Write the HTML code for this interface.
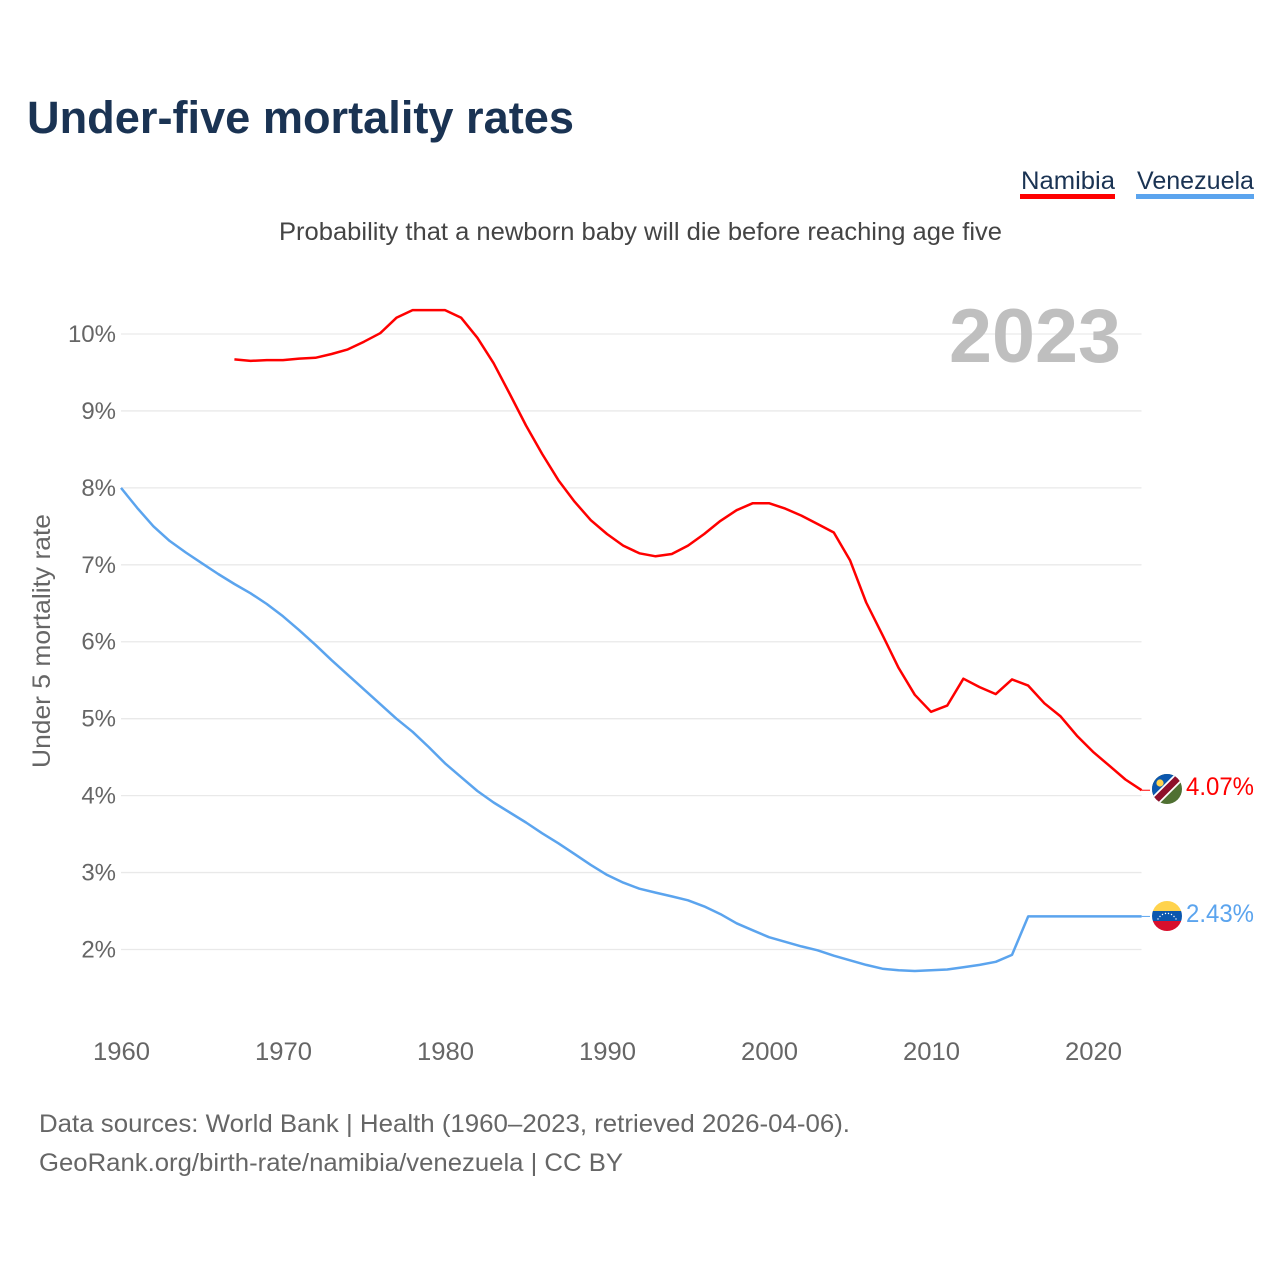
<!DOCTYPE html>
<html lang="en">
<head>
<meta charset="utf-8">
<title>Under-five mortality rates</title>
<style>
html,body{margin:0;padding:0;background:#fff;}
svg{display:block;font-family:"Liberation Sans",sans-serif;}
</style>
</head>
<body>
<svg id="chart" width="1280" height="1280" viewBox="0 0 1280 1280" xmlns="http://www.w3.org/2000/svg">
  <defs>
    <clipPath id="flag-clip-na"><circle cx="1167" cy="789" r="15"/></clipPath>
    <clipPath id="flag-clip-ve"><circle cx="1167" cy="916" r="15"/></clipPath>
  </defs>
  <rect width="1280" height="1280" fill="#fff"/>
  <text x="27" y="133" font-size="45" font-weight="700" fill="#1a3353" textLength="547" lengthAdjust="spacingAndGlyphs">Under-five mortality rates</text>
  <text x="1021" y="189" font-size="25" fill="#1a3353" textLength="94" lengthAdjust="spacingAndGlyphs">Namibia</text>
  <rect x="1020" y="194" width="95" height="5" fill="#ff0000"/>
  <text x="1137" y="189" font-size="25" fill="#1a3353" textLength="117" lengthAdjust="spacingAndGlyphs">Venezuela</text>
  <rect x="1136" y="194" width="118" height="5" fill="#5ba4ee"/>
  <text x="279" y="240" font-size="25" fill="#444" textLength="723" lengthAdjust="spacingAndGlyphs">Probability that a newborn baby will die before reaching age five</text>
  <g id="grid"></g>
  <g id="yticks"></g>
  <g id="xticks"></g>
  <text x="949" y="362" font-size="76" font-weight="700" fill="#bfbfbf" textLength="172" lengthAdjust="spacingAndGlyphs">2023</text>
  <text transform="translate(50,768) rotate(-90)" x="0" y="0" font-size="25" fill="#666" textLength="254" lengthAdjust="spacingAndGlyphs">Under 5 mortality rate</text>
  <g id="series"></g>

  <g clip-path="url(#flag-clip-na)">
    <rect x="1152" y="774" width="30" height="30" fill="#4f7032"/>
    <polygon points="1152,774 1182,774 1152,804" fill="#0b57ae"/>
    <line x1="1152" y1="804" x2="1182" y2="774" stroke="#fff" stroke-width="10"/>
    <line x1="1152" y1="804" x2="1182" y2="774" stroke="#8e0f2b" stroke-width="6.5"/>
    <circle cx="1160" cy="783" r="3.6" fill="#ffd34d"/>
  </g>
  <text id="end-label-namibia" x="1186" y="795" font-size="25" fill="#ff0000" textLength="68" lengthAdjust="spacingAndGlyphs">4.07%</text>

  <g clip-path="url(#flag-clip-ve)">
    <rect x="1152" y="901" width="30" height="10" fill="#ffd34d"/>
    <rect x="1152" y="911" width="30" height="10" fill="#0b57ae"/>
    <rect x="1152" y="921" width="30" height="10" fill="#d80f2c"/>
    <g fill="#fff">
      <circle cx="1158" cy="919" r="0.7"/><circle cx="1160" cy="916.5" r="0.7"/><circle cx="1162.5" cy="914.5" r="0.7"/>
      <circle cx="1165.5" cy="913.5" r="0.7"/><circle cx="1168.5" cy="913.5" r="0.7"/><circle cx="1171.5" cy="914.5" r="0.7"/>
      <circle cx="1174" cy="916.5" r="0.7"/><circle cx="1176" cy="919" r="0.7"/>
    </g>
  </g>
  <text id="end-label-venezuela" x="1186" y="922" font-size="25" fill="#5ba4ee" textLength="68" lengthAdjust="spacingAndGlyphs">2.43%</text>

  <text x="39" y="1132" font-size="25" fill="#666" textLength="811" lengthAdjust="spacingAndGlyphs">Data sources: World Bank | Health (1960–2023, retrieved 2026-04-06).</text>
  <text x="39" y="1171" font-size="25" fill="#666" textLength="584" lengthAdjust="spacingAndGlyphs">GeoRank.org/birth-rate/namibia/venezuela | CC BY</text>
</svg>
<script>
const xTickYears = [1960, 1970, 1980, 1990, 2000, 2010, 2020];
const yTickValues = [2, 3, 4, 5, 6, 7, 8, 9, 10];

const namibiaStartYear = 1967;
const namibiaValues = [
  9.67, 9.65, 9.66, 9.66, 9.68, 9.69, 9.74, 9.80, 9.90, 10.01,
  10.21, 10.31, 10.31, 10.31, 10.21, 9.95, 9.62, 9.22, 8.81, 8.44,
  8.10, 7.82, 7.58, 7.40, 7.25, 7.15, 7.11, 7.14, 7.25, 7.40,
  7.57, 7.71, 7.80, 7.80, 7.73, 7.64, 7.53, 7.42, 7.06, 6.51,
  6.09, 5.66, 5.31, 5.09, 5.17, 5.52, 5.41, 5.32, 5.51, 5.43,
  5.20, 5.03, 4.78, 4.57, 4.39, 4.21, 4.07
];

const venezuelaStartYear = 1960;
const venezuelaValues = [
  8.00, 7.74, 7.50, 7.31, 7.16, 7.02, 6.88, 6.75, 6.63, 6.49,
  6.33, 6.15, 5.96, 5.76, 5.57, 5.38, 5.19, 5.00, 4.83, 4.63,
  4.42, 4.24, 4.06, 3.91, 3.78, 3.65, 3.51, 3.38, 3.24, 3.10,
  2.97, 2.87, 2.79, 2.74, 2.69, 2.64, 2.56, 2.46, 2.34, 2.25,
  2.16, 2.10, 2.04, 1.99, 1.92, 1.86, 1.80, 1.75, 1.73, 1.72,
  1.73, 1.74, 1.77, 1.80, 1.84, 1.93, 2.43, 2.43, 2.43, 2.43,
  2.43, 2.43, 2.43, 2.43
];

const NS = 'http://www.w3.org/2000/svg';
const xScale = function (year) { return 121 + (year - 1960) * 16.2; };
const yScale = function (value) { return 949.5 - (value - 2) * 76.94; };

const gridGroup = document.getElementById('grid');
const yTickGroup = document.getElementById('yticks');
const xTickGroup = document.getElementById('xticks');
const seriesGroup = document.getElementById('series');

yTickValues.forEach(function (value) {
  const line = document.createElementNS(NS, 'line');
  
  
  line.setAttribute('x1', xScale(1960));
  line.setAttribute('x2', 1141.5);
  line.setAttribute('y1', yScale(value));
  line.setAttribute('y2', yScale(value));
  line.setAttribute('stroke', '#e9e9e9');
  line.setAttribute('stroke-width', '1.3');
  gridGroup.appendChild(line);

  const label = document.createElementNS(NS, 'text');
  
  
  label.setAttribute('x', 116);
  label.setAttribute('y', yScale(value) + 8);
  label.setAttribute('text-anchor', 'end');
  label.setAttribute('font-size', '24');
  label.setAttribute('fill', '#666');
  label.textContent = value + '%';
  yTickGroup.appendChild(label);
});

xTickYears.forEach(function (year) {
  const label = document.createElementNS(NS, 'text');
  
  
  label.setAttribute('x', xScale(year) + 0.5);
  label.setAttribute('y', 1060);
  label.setAttribute('text-anchor', 'middle');
  label.setAttribute('font-size', '25');
  label.setAttribute('fill', '#666');
  label.setAttribute('textLength', '57');
  label.setAttribute('lengthAdjust', 'spacingAndGlyphs');
  label.textContent = year;
  xTickGroup.appendChild(label);
});

function linePoints(startYear, values) {
  return values.map(function (value, i) {
    return xScale(startYear + i).toFixed(1) + ',' + yScale(value).toFixed(1);
  }).join(' ');
}

const namibiaLine = document.createElementNS(NS, 'polyline');


namibiaLine.setAttribute('points', linePoints(namibiaStartYear, namibiaValues));
namibiaLine.setAttribute('fill', 'none');
namibiaLine.setAttribute('stroke', '#ff0000');
namibiaLine.setAttribute('stroke-width', '2.5');
namibiaLine.setAttribute('stroke-linejoin', 'round');
seriesGroup.appendChild(namibiaLine);

const venezuelaLine = document.createElementNS(NS, 'polyline');


venezuelaLine.setAttribute('points', linePoints(venezuelaStartYear, venezuelaValues));
venezuelaLine.setAttribute('fill', 'none');
venezuelaLine.setAttribute('stroke', '#5ba4ee');
venezuelaLine.setAttribute('stroke-width', '2.5');
venezuelaLine.setAttribute('stroke-linejoin', 'round');
seriesGroup.appendChild(venezuelaLine);

const namibiaLast = namibiaValues[namibiaValues.length - 1];
const namibiaConnector = document.createElementNS(NS, 'line');


namibiaConnector.setAttribute('x1', xScale(2023));
namibiaConnector.setAttribute('x2', 1150);
namibiaConnector.setAttribute('y1', yScale(namibiaLast));
namibiaConnector.setAttribute('y2', yScale(namibiaLast));
namibiaConnector.setAttribute('stroke', '#ff0000');
namibiaConnector.setAttribute('stroke-width', '1');
seriesGroup.appendChild(namibiaConnector);

const venezuelaLast = venezuelaValues[venezuelaValues.length - 1];
const venezuelaConnector = document.createElementNS(NS, 'line');


venezuelaConnector.setAttribute('x1', xScale(2023));
venezuelaConnector.setAttribute('x2', 1150);
venezuelaConnector.setAttribute('y1', yScale(venezuelaLast));
venezuelaConnector.setAttribute('y2', yScale(venezuelaLast));
venezuelaConnector.setAttribute('stroke', '#5ba4ee');
venezuelaConnector.setAttribute('stroke-width', '1');
seriesGroup.appendChild(venezuelaConnector);
</script>
</body>
</html>
